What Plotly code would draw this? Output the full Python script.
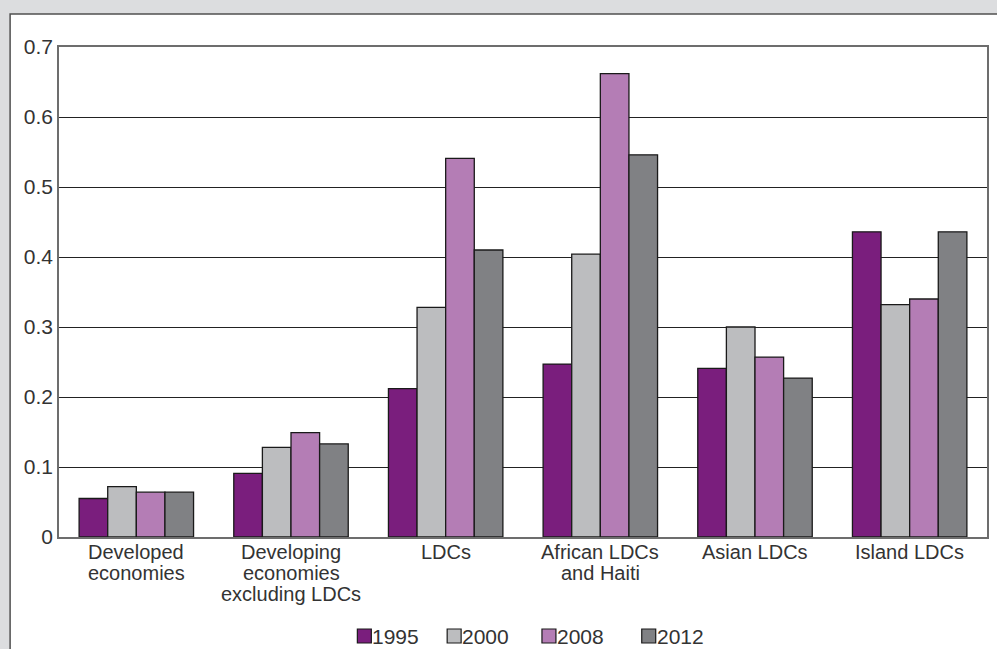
import plotly.graph_objects as go

# Categories (line breaks as shown under the axis)
categories = [
    "Developed<br>economies",
    "Developing<br>economies<br>excluding LDCs",
    "LDCs",
    "African LDCs<br>and Haiti",
    "Asian LDCs",
    "Island LDCs",
]

years = ["1995", "2000", "2008", "2012"]

values_1995 = [0.055, 0.091, 0.212, 0.247, 0.241, 0.436]
values_2000 = [0.072, 0.128, 0.328, 0.404, 0.300, 0.332]
values_2008 = [0.064, 0.149, 0.541, 0.662, 0.257, 0.340]
values_2012 = [0.064, 0.133, 0.410, 0.546, 0.227, 0.436]

series = [values_1995, values_2000, values_2008, values_2012]
colors = ["#7a1e7d", "#bcbdbf", "#b47db5", "#808184"]

y_ticks = [0, 0.1, 0.2, 0.3, 0.4, 0.5, 0.6, 0.7]

W, H = 997, 649
L, R, T, B = 59, 8, 47, 112
FONT = "Liberation Sans, Arial, sans-serif"
TXT = "#333333"

pw = W - L - R
ph = H - T - B
def px_x(p):
    return (p - L) / pw
def px_y(p):
    return (H - B - p) / ph

fig = go.Figure()
for name, vals, col in zip(years, series, colors):
    fig.add_trace(go.Bar(
        x=categories, y=vals, name=name,
        marker=dict(color=col, line=dict(color="#1a1a1a", width=1.3)),
    ))

# Category labels, one annotation per text line for tight spacing
annotations = []
for cat in categories:
    for j, line in enumerate(cat.split("<br>")):
        annotations.append(dict(
            x=cat, xref="x", y=0, yref="y", text=line, showarrow=False,
            yanchor="middle", xanchor="center", yshift=-(15 + 21 * j),
            font=dict(family=FONT, size=20, color=TXT),
        ))

# Compact key below the chart: small square swatch followed by the year
shapes = [dict(
    type="rect", xref="paper", yref="paper", layer="below",
    x0=px_x(10), x1=px_x(1010), y0=px_y(14), y1=px_y(700),
    fillcolor="white", line=dict(color="#505050", width=1.5),
)]
key_left = [358, 448, 543, 643]
for name, col, kx in zip(years, colors, key_left):
    shapes.append(dict(
        type="rect", xref="paper", yref="paper",
        x0=px_x(kx), x1=px_x(kx + 14), y0=px_y(643), y1=px_y(629),
        fillcolor=col, line=dict(color="#1a1a1a", width=1.2),
    ))
    annotations.append(dict(
        x=px_x(kx + 13), xref="paper", y=px_y(636), yref="paper",
        text=name, showarrow=False, xanchor="left", yanchor="middle",
        font=dict(family=FONT, size=21, color=TXT),
    ))

fig.update_layout(
    width=W, height=H,
    margin=dict(l=L, r=R, t=T, b=B),
    paper_bgcolor="#dcdddf",
    plot_bgcolor="white",
    barmode="group",
    bargap=0.26,
    bargroupgap=0,
    showlegend=False,
    xaxis=dict(
        type="category", showticklabels=False, ticks="",
        showline=True, linecolor="#6d6d6d", linewidth=1.5, mirror=True,
        showgrid=False,
    ),
    yaxis=dict(
        range=[0, 0.7], tickvals=y_ticks, ticktext=[f"{v:g}" for v in y_ticks],
        showgrid=True, gridcolor="#222222", gridwidth=1.2,
        zeroline=False,
        showline=True, linecolor="#6d6d6d", linewidth=1.5, mirror=True,
        ticks="", ticklabelstandoff=0,
        tickfont=dict(family=FONT, size=21, color=TXT),
    ),
    annotations=annotations,
    shapes=shapes,
)

fig.write_html("out.html")
